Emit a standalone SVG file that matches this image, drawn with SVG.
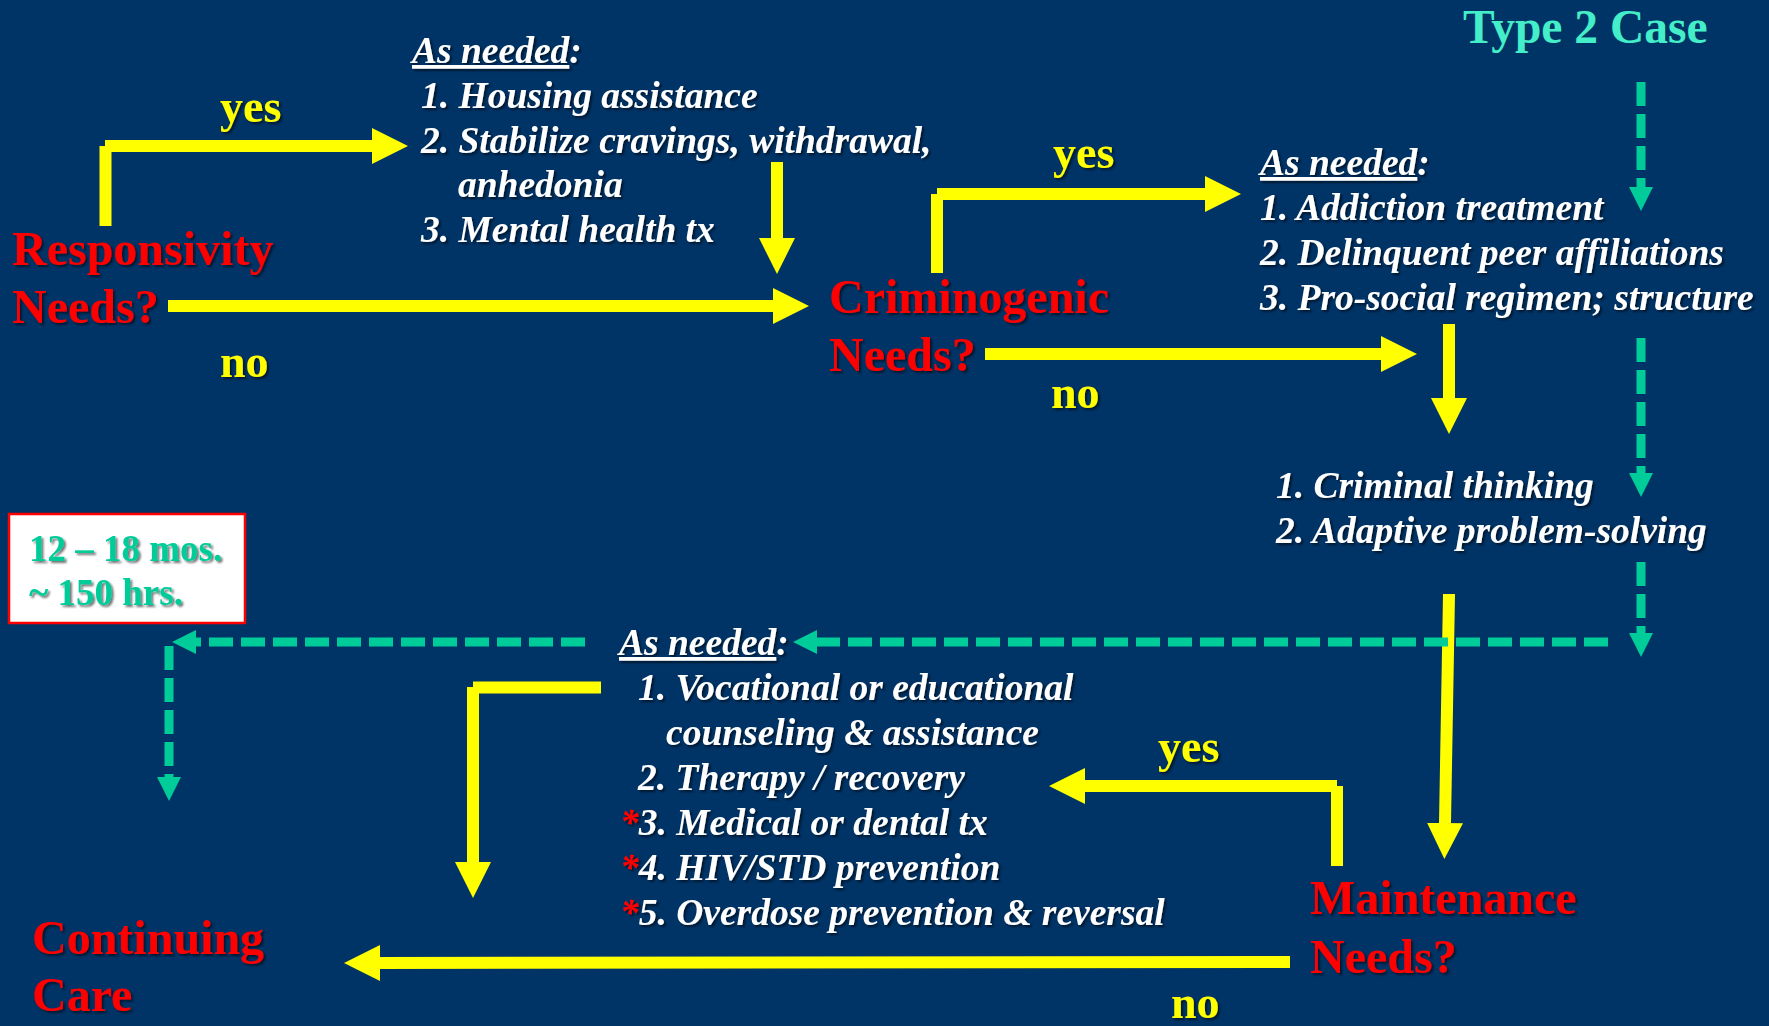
<svg xmlns="http://www.w3.org/2000/svg" width="1769" height="1026" viewBox="0 0 1769 1026">
  <defs>
    <filter id="shadow" x="-5%" y="-30%" width="110%" height="160%">
      <feDropShadow dx="2" dy="2" stdDeviation="1.2" flood-color="#000000" flood-opacity="0.55"/>
    </filter>
    <!-- solid yellow arrowhead, base at the line end -->
    <marker id="ya" markerUnits="userSpaceOnUse" viewBox="0 0 36 36" markerWidth="36" markerHeight="36" refX="0" refY="18" orient="auto">
      <path d="M0,0 L36,18 L0,36 Z" fill="#FFFF00"/>
    </marker>
    <!-- teal arrowhead for the dashed flow -->
    <marker id="ta" markerUnits="userSpaceOnUse" viewBox="0 0 24 24" markerWidth="24" markerHeight="24" refX="0" refY="12" orient="auto">
      <path d="M0,0 L24,12 L0,24 Z" fill="#00CC99"/>
    </marker>
  </defs>
  <style>
    text { font-family: "Liberation Serif", "Times New Roman", serif; font-weight: bold; }
    .q { fill: #FF0000; font-size: 48px; }
    .yn { fill: #FFFF00; font-size: 46px; }
    .it { fill: #FFFFFF; font-size: 37.5px; font-style: italic; }
    .ul { text-decoration: underline; }
    .ast { fill: #FF0000; }
    .dur { fill: #00CC99; font-size: 37px; }
    .y { stroke: #FFFF00; stroke-width: 12; fill: none; }
    .t { stroke: #00CC99; stroke-width: 9; stroke-dasharray: 24 8; fill: none; }
  </style>

  <rect x="0" y="0" width="1769" height="1026" fill="#003366"/>

  <!-- decision nodes -->
  <g id="responsivity" filter="url(#shadow)">
    <text class="q" x="12" y="265">Responsivity</text>
    <text class="q" x="12" y="323">Needs?</text>
  </g>
  <g id="criminogenic" filter="url(#shadow)">
    <text class="q" x="829" y="313">Criminogenic</text>
    <text class="q" x="829" y="371">Needs?</text>
  </g>
  <g id="maintenance" filter="url(#shadow)">
    <text class="q" x="1310" y="914">Maintenance</text>
    <text class="q" x="1310" y="973">Needs?</text>
  </g>
  <g id="continuing-care" filter="url(#shadow)">
    <text class="q" x="32" y="954">Continuing</text>
    <text class="q" x="32" y="1011">Care</text>
  </g>

  <g id="type2-case">
    <text x="1463" y="43" font-size="47.5" fill="#44EEC8">Type 2 Case</text>
  </g>

  <g id="duration">
    <rect x="9" y="514" width="236" height="109" fill="#FFFFFF" stroke="#FF0000" stroke-width="2.5"/>
    <g filter="url(#shadow)">
      <text class="dur" x="29" y="561">12 – 18 mos.</text>
      <text class="dur" x="29" y="605">~ 150 hrs.</text>
    </g>
  </g>

  <!-- service lists -->
  <g id="responsivity-services" filter="url(#shadow)">
    <text class="it" x="412" y="63"><tspan class="ul">As needed</tspan>:</text>
    <text class="it" x="421" y="108">1. Housing assistance</text>
    <text class="it" x="421" y="153">2. Stabilize cravings, withdrawal,</text>
    <text class="it" x="458" y="197">anhedonia</text>
    <text class="it" x="421" y="242">3. Mental health tx</text>
  </g>
  <g id="criminogenic-services" filter="url(#shadow)">
    <text class="it" x="1260" y="175"><tspan class="ul">As needed</tspan>:</text>
    <text class="it" x="1260" y="220">1. Addiction treatment</text>
    <text class="it" x="1260" y="265">2. Delinquent peer affiliations</text>
    <text class="it" x="1260" y="310">3. Pro-social regimen; structure</text>
  </g>
  <g id="core-services" filter="url(#shadow)">
    <text class="it" x="1276" y="498">1. Criminal thinking</text>
    <text class="it" x="1276" y="543">2. Adaptive problem-solving</text>
  </g>
  <g id="maintenance-services" filter="url(#shadow)">
    <text class="it" x="619" y="655"><tspan class="ul">As needed</tspan>:</text>
    <text class="it" x="638" y="700">1. Vocational or educational</text>
    <text class="it" x="666" y="745">counseling &amp; assistance</text>
    <text class="it" x="638" y="790">2. Therapy / recovery</text>
    <text class="it" x="620" y="835"><tspan class="ast">*</tspan>3. Medical or dental tx</text>
    <text class="it" x="620" y="880"><tspan class="ast">*</tspan>4. HIV/STD prevention</text>
    <text class="it" x="620" y="925"><tspan class="ast">*</tspan>5. Overdose prevention &amp; reversal</text>
  </g>

  <g id="connectors">
    <!-- Responsivity: yes / no -->
    <line class="y" x1="105.5" y1="226" x2="105.5" y2="146"/>
    <line class="y" x1="105" y1="146" x2="372" y2="146" marker-end="url(#ya)"/>
    <line class="y" x1="168" y1="306" x2="773" y2="306" marker-end="url(#ya)"/>
    <line class="y" x1="777" y1="162" x2="777" y2="238" marker-end="url(#ya)"/>

    <!-- Criminogenic: yes / no -->
    <line class="y" x1="937" y1="273" x2="937" y2="194"/>
    <line class="y" x1="937" y1="194" x2="1205" y2="194" marker-end="url(#ya)"/>
    <line class="y" x1="985" y1="354" x2="1381" y2="354" marker-end="url(#ya)"/>
    <line class="y" x1="1449" y1="324" x2="1449" y2="398" marker-end="url(#ya)"/>

    <!-- into Maintenance -->
    <line class="y" x1="1449" y1="594" x2="1445" y2="823" marker-end="url(#ya)"/>

    <!-- Maintenance: yes / no -->
    <line class="y" x1="1337" y1="866" x2="1337" y2="786"/>
    <line class="y" x1="1337" y1="786" x2="1085" y2="786" marker-end="url(#ya)"/>
    <line class="y" x1="1290" y1="962" x2="380" y2="963" marker-end="url(#ya)"/>

    <!-- maintenance services to continuing care -->
    <line class="y" x1="601" y1="687.5" x2="473" y2="687.5"/>
    <line class="y" x1="473" y1="687" x2="473" y2="862" marker-end="url(#ya)"/>

    <!-- Type 2 path (dashed) -->
    <line class="t" x1="1641" y1="82" x2="1641" y2="187" marker-end="url(#ta)"/>
    <line class="t" x1="1641" y1="338" x2="1641" y2="473" marker-end="url(#ta)"/>
    <line class="t" x1="1641" y1="562" x2="1641" y2="633" marker-end="url(#ta)"/>
    <line class="t" x1="1608" y1="642" x2="817" y2="642" marker-end="url(#ta)"/>
    <line class="t" x1="585" y1="642" x2="196" y2="642" marker-end="url(#ta)"/>
    <line class="t" x1="169" y1="646" x2="169" y2="777" marker-end="url(#ta)"/>

    <!-- branch labels -->
    <g filter="url(#shadow)">
      <text class="yn" x="220" y="122">yes</text>
      <text class="yn" x="220" y="377">no</text>
      <text class="yn" x="1053" y="168">yes</text>
      <text class="yn" x="1051" y="408">no</text>
      <text class="yn" x="1158" y="762">yes</text>
      <text class="yn" x="1171" y="1018">no</text>
    </g>
  </g>
</svg>
